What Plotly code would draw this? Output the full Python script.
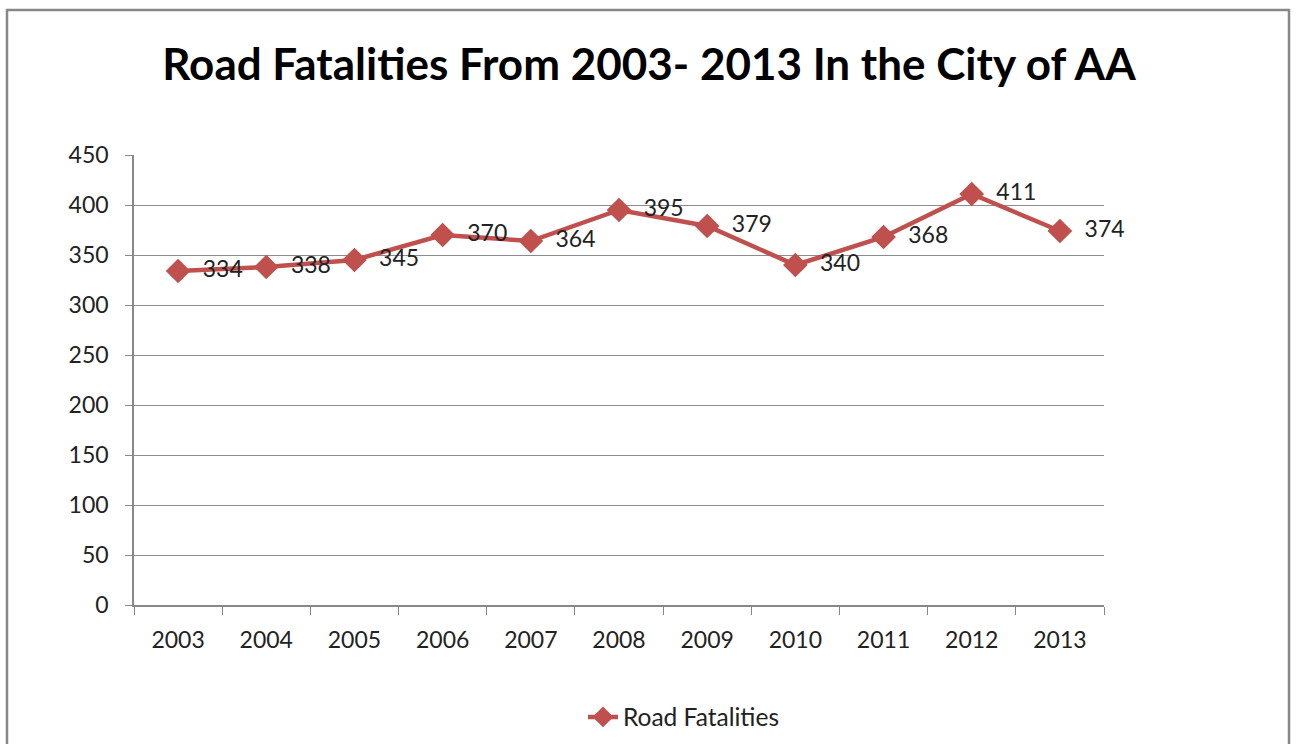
import plotly.graph_objects as go

years = ["2003", "2004", "2005", "2006", "2007", "2008", "2009", "2010", "2011", "2012", "2013"]
fatalities = [334, 338, 345, 370, 364, 395, 379, 340, 368, 411, 374]
y_ticks = [0, 50, 100, 150, 200, 250, 300, 350, 400, 450]

red = "#C0504D"
font_family = "Lato, 'Open Sans', sans-serif"

fig = go.Figure()
fig.add_trace(go.Scatter(
    x=years,
    y=fatalities,
    mode="lines+markers+text",
    name="Road Fatalities",
    line=dict(color=red, width=4.5),
    marker=dict(symbol="diamond", size=19, color=red),
    text=["  " + str(v) for v in fatalities],
    textposition="middle right",
    textfont=dict(size=23, color="#222222", family=font_family),
    cliponaxis=False,
))

fig.update_layout(
    width=1298,
    height=744,
    margin=dict(l=134, r=194, t=155, b=139, autoexpand=False),
    paper_bgcolor="white",
    plot_bgcolor="white",
    font=dict(family=font_family, color="#222222"),
    title=dict(
        text="<b>Road Fatalities From 2003- 2013 In the City of AA</b>",
        x=0.5, xref="container", xanchor="center",
        y=1 - 65 / 744, yref="container", yanchor="middle",
        font=dict(size=44, color="#000000", family=font_family),
    ),
    showlegend=True,
    legend=dict(
        orientation="h",
        x=(684 - 134) / 970, xanchor="center",
        y=(605 - 717) / 450, yanchor="middle",
        font=dict(size=24.5, color="#222222"),
    ),
    xaxis=dict(
        type="category",
        tickson="boundaries",
        ticks="outside",
        ticklen=8,
        tickcolor="#888888",
        showline=True,
        linecolor="#888888",
        linewidth=1.5,
        showgrid=False,
        tickfont=dict(size=23),
        ticklabelstandoff=14,
        range=[-0.5, len(years) - 0.5],
    ),
    yaxis=dict(
        range=[0, 450],
        tickvals=y_ticks,
        ticks="outside",
        ticklen=7,
        tickcolor="#888888",
        showline=True,
        linecolor="#888888",
        linewidth=1.5,
        showgrid=True,
        gridcolor="#8c8c8c",
        gridwidth=1,
        zeroline=False,
        tickfont=dict(size=23),
        ticklabelstandoff=12,
    ),
    shapes=[dict(
        type="rect",
        xref="paper", yref="paper",
        x0=(7 - 134) / 970, x1=(1289 - 134) / 970,
        y0=(605 - 760) / 450, y1=(605 - 10) / 450,
        line=dict(color="#888888", width=2.5),
        fillcolor="rgba(0,0,0,0)",
        layer="below",
    )],
)

fig.write_html("out.html")
